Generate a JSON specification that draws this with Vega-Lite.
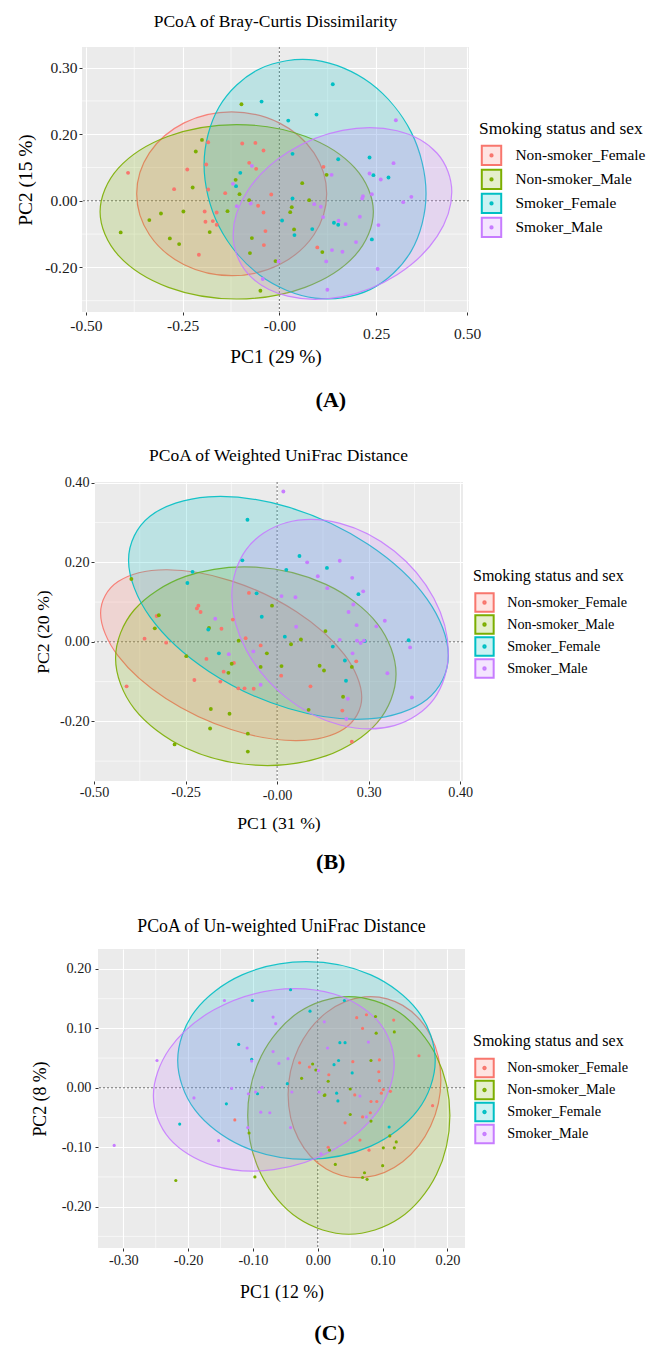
{
"$schema":"https://vega.github.io/schema/vega-lite/v6.json",
"background":"white",
"padding":{"left":5,"top":13,"right":0,"bottom":0},
"spacing":36,
"resolve":{"scale":{"fill":"independent","stroke":"independent"},"legend":{"fill":"independent","stroke":"independent"}},
"config":{
 "font":"Liberation Serif",
 "view":{"fill":"#EBEBEB","stroke":null},
 "title":{"font":"Liberation Serif","fontWeight":"normal","color":"#000000"},
 "axis":{"labelFont":"Liberation Serif","titleFont":"Liberation Serif","labelColor":"#1a1a1a","titleColor":"#000000","titleFontWeight":"normal","domain":false,"tickColor":"#333333","tickSize":3,"tickWidth":1,"gridColor":"#ffffff","gridWidth":1.1,"labelOverlap":false,"labelFlush":false},
 "legend":{"titleFont":"Liberation Serif","labelFont":"Liberation Serif","titleFontWeight":"normal","titleColor":"#000000","labelColor":"#000000","padding":0}
},
"datasets":{
"grid":[
{"p":"A","a":"x","k":"m","v":-0.375},{"p":"A","a":"x","k":"m","v":-0.125},{"p":"A","a":"x","k":"m","v":0.125},{"p":"A","a":"x","k":"m","v":0.375},
{"p":"A","a":"y","k":"m","v":-0.3},{"p":"A","a":"y","k":"m","v":-0.1},{"p":"A","a":"y","k":"m","v":0.1},{"p":"A","a":"y","k":"m","v":0.3},
{"p":"A","a":"x","k":"z","v":0},{"p":"A","a":"y","k":"z","v":0},
{"p":"B","a":"x","k":"m","v":-0.375},{"p":"B","a":"x","k":"m","v":-0.125},{"p":"B","a":"x","k":"m","v":0.125},{"p":"B","a":"x","k":"m","v":0.375},
{"p":"B","a":"y","k":"m","v":-0.3},{"p":"B","a":"y","k":"m","v":-0.1},{"p":"B","a":"y","k":"m","v":0.1},{"p":"B","a":"y","k":"m","v":0.3},
{"p":"B","a":"x","k":"z","v":0},{"p":"B","a":"y","k":"z","v":0},
{"p":"C","a":"x","k":"m","v":-0.25},{"p":"C","a":"x","k":"m","v":-0.15},{"p":"C","a":"x","k":"m","v":-0.05},{"p":"C","a":"x","k":"m","v":0.05},{"p":"C","a":"x","k":"m","v":0.15},
{"p":"C","a":"y","k":"m","v":-0.25},{"p":"C","a":"y","k":"m","v":-0.15},{"p":"C","a":"y","k":"m","v":-0.05},{"p":"C","a":"y","k":"m","v":0.05},{"p":"C","a":"y","k":"m","v":0.15},
{"p":"C","a":"x","k":"z","v":0},{"p":"C","a":"y","k":"z","v":0}
],
"ell":[
{"p":"A","g":"Non-smoker_Female","i":0,"x":0.1223,"y":0.021},{"p":"A","g":"Non-smoker_Female","i":1,"x":0.0894,"y":0.144},{"p":"A","g":"Non-smoker_Female","i":2,"x":-0.0004,"y":0.234},{"p":"A","g":"Non-smoker_Female","i":3,"x":-0.1232,"y":0.267},{"p":"A","g":"Non-smoker_Female","i":4,"x":-0.246,"y":0.234},{"p":"A","g":"Non-smoker_Female","i":5,"x":-0.3358,"y":0.144},{"p":"A","g":"Non-smoker_Female","i":6,"x":-0.3687,"y":0.021},{"p":"A","g":"Non-smoker_Female","i":7,"x":-0.3358,"y":-0.102},{"p":"A","g":"Non-smoker_Female","i":8,"x":-0.246,"y":-0.192},{"p":"A","g":"Non-smoker_Female","i":9,"x":-0.1232,"y":-0.225},{"p":"A","g":"Non-smoker_Female","i":10,"x":-0.0004,"y":-0.192},{"p":"A","g":"Non-smoker_Female","i":11,"x":0.0894,"y":-0.102},
{"p":"A","g":"Non-smoker_Male","i":0,"x":0.2429,"y":-0.033},{"p":"A","g":"Non-smoker_Male","i":1,"x":0.1956,"y":0.098},{"p":"A","g":"Non-smoker_Male","i":2,"x":0.0664,"y":0.1939},{"p":"A","g":"Non-smoker_Male","i":3,"x":-0.1102,"y":0.229},{"p":"A","g":"Non-smoker_Male","i":4,"x":-0.2868,"y":0.1939},{"p":"A","g":"Non-smoker_Male","i":5,"x":-0.416,"y":0.098},{"p":"A","g":"Non-smoker_Male","i":6,"x":-0.4633,"y":-0.033},{"p":"A","g":"Non-smoker_Male","i":7,"x":-0.416,"y":-0.164},{"p":"A","g":"Non-smoker_Male","i":8,"x":-0.2868,"y":-0.2599},{"p":"A","g":"Non-smoker_Male","i":9,"x":-0.1102,"y":-0.295},{"p":"A","g":"Non-smoker_Male","i":10,"x":0.0664,"y":-0.2599},{"p":"A","g":"Non-smoker_Male","i":11,"x":0.1956,"y":-0.164},
{"p":"A","g":"Smoker_Female","i":0,"x":0.379,"y":0.0218},{"p":"A","g":"Smoker_Female","i":1,"x":0.3406,"y":0.2063},{"p":"A","g":"Smoker_Female","i":2,"x":0.2356,"y":0.3529},{"p":"A","g":"Smoker_Female","i":3,"x":0.0922,"y":0.4224},{"p":"A","g":"Smoker_Female","i":4,"x":-0.0512,"y":0.3961},{"p":"A","g":"Smoker_Female","i":5,"x":-0.1562,"y":0.2811},{"p":"A","g":"Smoker_Female","i":6,"x":-0.1946,"y":0.1082},{"p":"A","g":"Smoker_Female","i":7,"x":-0.1562,"y":-0.0763},{"p":"A","g":"Smoker_Female","i":8,"x":-0.0512,"y":-0.2229},{"p":"A","g":"Smoker_Female","i":9,"x":0.0922,"y":-0.2924},{"p":"A","g":"Smoker_Female","i":10,"x":0.2356,"y":-0.2661},{"p":"A","g":"Smoker_Female","i":11,"x":0.3406,"y":-0.1511},
{"p":"A","g":"Smoker_Male","i":0,"x":0.4455,"y":0.0265},{"p":"A","g":"Smoker_Male","i":1,"x":0.4076,"y":0.1428},{"p":"A","g":"Smoker_Male","i":2,"x":0.3043,"y":0.2105},{"p":"A","g":"Smoker_Male","i":3,"x":0.163,"y":0.2117},{"p":"A","g":"Smoker_Male","i":4,"x":0.0217,"y":0.1459},{"p":"A","g":"Smoker_Male","i":5,"x":-0.0816,"y":0.031},{"p":"A","g":"Smoker_Male","i":6,"x":-0.1195,"y":-0.1025},{"p":"A","g":"Smoker_Male","i":7,"x":-0.0816,"y":-0.2188},{"p":"A","g":"Smoker_Male","i":8,"x":0.0217,"y":-0.2865},{"p":"A","g":"Smoker_Male","i":9,"x":0.163,"y":-0.2877},{"p":"A","g":"Smoker_Male","i":10,"x":0.3043,"y":-0.2219},{"p":"A","g":"Smoker_Male","i":11,"x":0.4076,"y":-0.107},
{"p":"B","g":"Non-smoker_Female","i":0,"x":0.231,"y":-0.1391},{"p":"B","g":"Non-smoker_Female","i":1,"x":0.1832,"y":-0.0315},{"p":"B","g":"Non-smoker_Female","i":2,"x":0.0528,"y":0.0757},{"p":"B","g":"Non-smoker_Female","i":3,"x":-0.1255,"y":0.1535},{"p":"B","g":"Non-smoker_Female","i":4,"x":-0.3038,"y":0.1813},{"p":"B","g":"Non-smoker_Female","i":5,"x":-0.4342,"y":0.1515},{"p":"B","g":"Non-smoker_Female","i":6,"x":-0.482,"y":0.0721},{"p":"B","g":"Non-smoker_Female","i":7,"x":-0.4342,"y":-0.0355},{"p":"B","g":"Non-smoker_Female","i":8,"x":-0.3038,"y":-0.1427},{"p":"B","g":"Non-smoker_Female","i":9,"x":-0.1255,"y":-0.2205},{"p":"B","g":"Non-smoker_Female","i":10,"x":0.0528,"y":-0.2483},{"p":"B","g":"Non-smoker_Female","i":11,"x":0.1832,"y":-0.2185},
{"p":"B","g":"Non-smoker_Male","i":0,"x":0.3247,"y":-0.0812},{"p":"B","g":"Non-smoker_Male","i":1,"x":0.2734,"y":0.0461},{"p":"B","g":"Non-smoker_Male","i":2,"x":0.1333,"y":0.1445},{"p":"B","g":"Non-smoker_Male","i":3,"x":-0.0582,"y":0.1879},{"p":"B","g":"Non-smoker_Male","i":4,"x":-0.2497,"y":0.1645},{"p":"B","g":"Non-smoker_Male","i":5,"x":-0.3898,"y":0.0807},{"p":"B","g":"Non-smoker_Male","i":6,"x":-0.4411,"y":-0.0412},{"p":"B","g":"Non-smoker_Male","i":7,"x":-0.3898,"y":-0.1685},{"p":"B","g":"Non-smoker_Male","i":8,"x":-0.2497,"y":-0.2669},{"p":"B","g":"Non-smoker_Male","i":9,"x":-0.0582,"y":-0.3103},{"p":"B","g":"Non-smoker_Male","i":10,"x":0.1333,"y":-0.2869},{"p":"B","g":"Non-smoker_Male","i":11,"x":0.2734,"y":-0.2031},
{"p":"B","g":"Smoker_Female","i":0,"x":0.4675,"y":-0.0344},{"p":"B","g":"Smoker_Female","i":1,"x":0.409,"y":0.1083},{"p":"B","g":"Smoker_Female","i":2,"x":0.2492,"y":0.2448},{"p":"B","g":"Smoker_Female","i":3,"x":0.0309,"y":0.3387},{"p":"B","g":"Smoker_Female","i":4,"x":-0.1874,"y":0.3648},{"p":"B","g":"Smoker_Female","i":5,"x":-0.3472,"y":0.3159},{"p":"B","g":"Smoker_Female","i":6,"x":-0.4057,"y":0.2054},{"p":"B","g":"Smoker_Female","i":7,"x":-0.3472,"y":0.0627},{"p":"B","g":"Smoker_Female","i":8,"x":-0.1874,"y":-0.0738},{"p":"B","g":"Smoker_Female","i":9,"x":0.0309,"y":-0.1677},{"p":"B","g":"Smoker_Female","i":10,"x":0.2492,"y":-0.1938},{"p":"B","g":"Smoker_Female","i":11,"x":0.409,"y":-0.1449},
{"p":"B","g":"Smoker_Male","i":0,"x":0.4675,"y":-0.0267},{"p":"B","g":"Smoker_Male","i":1,"x":0.4279,"y":0.1096},{"p":"B","g":"Smoker_Male","i":2,"x":0.3197,"y":0.2284},{"p":"B","g":"Smoker_Male","i":3,"x":0.1719,"y":0.298},{"p":"B","g":"Smoker_Male","i":4,"x":0.0241,"y":0.2996},{"p":"B","g":"Smoker_Male","i":5,"x":-0.0841,"y":0.2328},{"p":"B","g":"Smoker_Male","i":6,"x":-0.1237,"y":0.1155},{"p":"B","g":"Smoker_Male","i":7,"x":-0.0841,"y":-0.0208},{"p":"B","g":"Smoker_Male","i":8,"x":0.0241,"y":-0.1396},{"p":"B","g":"Smoker_Male","i":9,"x":0.1719,"y":-0.2092},{"p":"B","g":"Smoker_Male","i":10,"x":0.3197,"y":-0.2108},{"p":"B","g":"Smoker_Male","i":11,"x":0.4279,"y":-0.144},
{"p":"C","g":"Non-smoker_Female","i":0,"x":0.1898,"y":0.0133},{"p":"C","g":"Non-smoker_Female","i":1,"x":0.174,"y":0.0877},{"p":"C","g":"Non-smoker_Female","i":2,"x":0.1309,"y":0.1387},{"p":"C","g":"Non-smoker_Female","i":3,"x":0.072,"y":0.153},{"p":"C","g":"Non-smoker_Female","i":4,"x":0.0131,"y":0.1265},{"p":"C","g":"Non-smoker_Female","i":5,"x":-0.03,"y":0.0665},{"p":"C","g":"Non-smoker_Female","i":6,"x":-0.0458,"y":-0.0111},{"p":"C","g":"Non-smoker_Female","i":7,"x":-0.03,"y":-0.0855},{"p":"C","g":"Non-smoker_Female","i":8,"x":0.0131,"y":-0.1365},{"p":"C","g":"Non-smoker_Female","i":9,"x":0.072,"y":-0.1508},{"p":"C","g":"Non-smoker_Female","i":10,"x":0.1309,"y":-0.1243},{"p":"C","g":"Non-smoker_Female","i":11,"x":0.174,"y":-0.0643},
{"p":"C","g":"Non-smoker_Male","i":0,"x":0.2037,"y":-0.0465},{"p":"C","g":"Non-smoker_Male","i":1,"x":0.1828,"y":0.0535},{"p":"C","g":"Non-smoker_Male","i":2,"x":0.1258,"y":0.1267},{"p":"C","g":"Non-smoker_Male","i":3,"x":0.0478,"y":0.1535},{"p":"C","g":"Non-smoker_Male","i":4,"x":-0.0302,"y":0.1267},{"p":"C","g":"Non-smoker_Male","i":5,"x":-0.0872,"y":0.0535},{"p":"C","g":"Non-smoker_Male","i":6,"x":-0.1081,"y":-0.0465},{"p":"C","g":"Non-smoker_Male","i":7,"x":-0.0872,"y":-0.1465},{"p":"C","g":"Non-smoker_Male","i":8,"x":-0.0302,"y":-0.2197},{"p":"C","g":"Non-smoker_Male","i":9,"x":0.0478,"y":-0.2465},{"p":"C","g":"Non-smoker_Male","i":10,"x":0.1258,"y":-0.2197},{"p":"C","g":"Non-smoker_Male","i":11,"x":0.1828,"y":-0.1465},
{"p":"C","g":"Smoker_Female","i":0,"x":0.1811,"y":0.0459},{"p":"C","g":"Smoker_Female","i":1,"x":0.1545,"y":0.1291},{"p":"C","g":"Smoker_Female","i":2,"x":0.0818,"y":0.19},{"p":"C","g":"Smoker_Female","i":3,"x":-0.0175,"y":0.2123},{"p":"C","g":"Smoker_Female","i":4,"x":-0.1168,"y":0.19},{"p":"C","g":"Smoker_Female","i":5,"x":-0.1895,"y":0.1291},{"p":"C","g":"Smoker_Female","i":6,"x":-0.2161,"y":0.0459},{"p":"C","g":"Smoker_Female","i":7,"x":-0.1895,"y":-0.0373},{"p":"C","g":"Smoker_Female","i":8,"x":-0.1168,"y":-0.0982},{"p":"C","g":"Smoker_Female","i":9,"x":-0.0175,"y":-0.1205},{"p":"C","g":"Smoker_Female","i":10,"x":0.0818,"y":-0.0982},{"p":"C","g":"Smoker_Female","i":11,"x":0.1545,"y":-0.0373},
{"p":"C","g":"Smoker_Male","i":0,"x":0.1178,"y":0.0403},{"p":"C","g":"Smoker_Male","i":1,"x":0.0929,"y":0.1123},{"p":"C","g":"Smoker_Male","i":2,"x":0.025,"y":0.1578},{"p":"C","g":"Smoker_Male","i":3,"x":-0.0679,"y":0.1646},{"p":"C","g":"Smoker_Male","i":4,"x":-0.1608,"y":0.1308},{"p":"C","g":"Smoker_Male","i":5,"x":-0.2287,"y":0.0657},{"p":"C","g":"Smoker_Male","i":6,"x":-0.2536,"y":-0.0135},{"p":"C","g":"Smoker_Male","i":7,"x":-0.2287,"y":-0.0855},{"p":"C","g":"Smoker_Male","i":8,"x":-0.1608,"y":-0.131},{"p":"C","g":"Smoker_Male","i":9,"x":-0.0679,"y":-0.1378},{"p":"C","g":"Smoker_Male","i":10,"x":0.025,"y":-0.104},{"p":"C","g":"Smoker_Male","i":11,"x":0.0929,"y":-0.0389}
],
"pts":[
{"p":"A","g":"Non-smoker_Female","x":-0.391,"y":0.084},{"p":"A","g":"Non-smoker_Female","x":-0.272,"y":0.035},{"p":"A","g":"Non-smoker_Female","x":-0.238,"y":0.094},{"p":"A","g":"Non-smoker_Female","x":-0.189,"y":0.109},{"p":"A","g":"Non-smoker_Female","x":-0.184,"y":0.034},{"p":"A","g":"Non-smoker_Female","x":-0.184,"y":0.176},{"p":"A","g":"Non-smoker_Female","x":-0.193,"y":-0.032},{"p":"A","g":"Non-smoker_Female","x":-0.191,"y":-0.063},{"p":"A","g":"Non-smoker_Female","x":-0.172,"y":-0.061},{"p":"A","g":"Non-smoker_Female","x":-0.162,"y":-0.035},{"p":"A","g":"Non-smoker_Female","x":-0.162,"y":-0.072},{"p":"A","g":"Non-smoker_Female","x":-0.208,"y":-0.162},{"p":"A","g":"Non-smoker_Female","x":-0.14,"y":0.023},{"p":"A","g":"Non-smoker_Female","x":-0.096,"y":0.172},{"p":"A","g":"Non-smoker_Female","x":-0.062,"y":0.174},{"p":"A","g":"Non-smoker_Female","x":-0.041,"y":0.151},{"p":"A","g":"Non-smoker_Female","x":-0.078,"y":0.114},{"p":"A","g":"Non-smoker_Female","x":-0.06,"y":0.096},{"p":"A","g":"Non-smoker_Female","x":-0.055,"y":-0.015},{"p":"A","g":"Non-smoker_Female","x":-0.041,"y":-0.035},{"p":"A","g":"Non-smoker_Female","x":-0.036,"y":-0.091},{"p":"A","g":"Non-smoker_Female","x":-0.04,"y":-0.133},{"p":"A","g":"Non-smoker_Female","x":-0.021,"y":0.019},{"p":"A","g":"Non-smoker_Female","x":0.114,"y":0.102},{"p":"A","g":"Non-smoker_Female","x":0.098,"y":-0.14},
{"p":"A","g":"Non-smoker_Male","x":-0.41,"y":-0.095},{"p":"A","g":"Non-smoker_Male","x":-0.336,"y":-0.058},{"p":"A","g":"Non-smoker_Male","x":-0.306,"y":-0.038},{"p":"A","g":"Non-smoker_Male","x":-0.283,"y":-0.113},{"p":"A","g":"Non-smoker_Male","x":-0.259,"y":-0.13},{"p":"A","g":"Non-smoker_Male","x":-0.248,"y":-0.032},{"p":"A","g":"Non-smoker_Male","x":-0.224,"y":0.04},{"p":"A","g":"Non-smoker_Male","x":-0.216,"y":0.148},{"p":"A","g":"Non-smoker_Male","x":-0.2,"y":0.183},{"p":"A","g":"Non-smoker_Male","x":-0.18,"y":-0.094},{"p":"A","g":"Non-smoker_Male","x":-0.134,"y":-0.031},{"p":"A","g":"Non-smoker_Male","x":-0.113,"y":0.063},{"p":"A","g":"Non-smoker_Male","x":-0.103,"y":0.02},{"p":"A","g":"Non-smoker_Male","x":-0.098,"y":0.29},{"p":"A","g":"Non-smoker_Male","x":-0.078,"y":0.002},{"p":"A","g":"Non-smoker_Male","x":-0.071,"y":-0.112},{"p":"A","g":"Non-smoker_Male","x":-0.076,"y":-0.157},{"p":"A","g":"Non-smoker_Male","x":-0.049,"y":-0.27},{"p":"A","g":"Non-smoker_Male","x":-0.01,"y":-0.181},{"p":"A","g":"Non-smoker_Male","x":0.028,"y":-0.034},{"p":"A","g":"Non-smoker_Male","x":0.032,"y":-0.019},{"p":"A","g":"Non-smoker_Male","x":0.038,"y":-0.086},{"p":"A","g":"Non-smoker_Male","x":0.059,"y":0.053},{"p":"A","g":"Non-smoker_Male","x":0.077,"y":0.002},{"p":"A","g":"Non-smoker_Male","x":0.122,"y":0.078},{"p":"A","g":"Non-smoker_Male","x":0.111,"y":-0.154},
{"p":"A","g":"Smoker_Female","x":-0.046,"y":0.298},{"p":"A","g":"Smoker_Female","x":0.023,"y":0.241},{"p":"A","g":"Smoker_Female","x":0.096,"y":0.259},{"p":"A","g":"Smoker_Female","x":0.138,"y":0.35},{"p":"A","g":"Smoker_Female","x":-0.101,"y":0.084},{"p":"A","g":"Smoker_Female","x":-0.112,"y":0.044},{"p":"A","g":"Smoker_Female","x":0.034,"y":0.141},{"p":"A","g":"Smoker_Female","x":0.034,"y":0.007},{"p":"A","g":"Smoker_Female","x":0.007,"y":-0.059},{"p":"A","g":"Smoker_Female","x":0.039,"y":-0.103},{"p":"A","g":"Smoker_Female","x":0.085,"y":-0.085},{"p":"A","g":"Smoker_Female","x":0.141,"y":-0.066},{"p":"A","g":"Smoker_Female","x":0.152,"y":-0.072},{"p":"A","g":"Smoker_Female","x":0.152,"y":0.125},{"p":"A","g":"Smoker_Female","x":0.233,"y":0.13},{"p":"A","g":"Smoker_Female","x":0.243,"y":0.077},{"p":"A","g":"Smoker_Female","x":0.282,"y":0.07},{"p":"A","g":"Smoker_Female","x":0.239,"y":-0.116},
{"p":"A","g":"Smoker_Male","x":0.301,"y":0.242},{"p":"A","g":"Smoker_Male","x":0.295,"y":0.113},{"p":"A","g":"Smoker_Male","x":0.262,"y":0.064},{"p":"A","g":"Smoker_Male","x":0.233,"y":0.082},{"p":"A","g":"Smoker_Male","x":0.135,"y":0.078},{"p":"A","g":"Smoker_Male","x":0.239,"y":0.02},{"p":"A","g":"Smoker_Male","x":0.216,"y":0.014},{"p":"A","g":"Smoker_Male","x":0.214,"y":0.007},{"p":"A","g":"Smoker_Male","x":0.32,"y":-0.004},{"p":"A","g":"Smoker_Male","x":0.341,"y":0.012},{"p":"A","g":"Smoker_Male","x":0.09,"y":-0.01},{"p":"A","g":"Smoker_Male","x":0.107,"y":-0.018},{"p":"A","g":"Smoker_Male","x":0.113,"y":-0.049},{"p":"A","g":"Smoker_Male","x":0.153,"y":-0.06},{"p":"A","g":"Smoker_Male","x":0.171,"y":-0.07},{"p":"A","g":"Smoker_Male","x":0.208,"y":-0.048},{"p":"A","g":"Smoker_Male","x":0.256,"y":-0.073},{"p":"A","g":"Smoker_Male","x":0.198,"y":-0.124},{"p":"A","g":"Smoker_Male","x":0.136,"y":-0.148},{"p":"A","g":"Smoker_Male","x":0.163,"y":-0.153},{"p":"A","g":"Smoker_Male","x":0.121,"y":-0.182},{"p":"A","g":"Smoker_Male","x":0.254,"y":-0.205},{"p":"A","g":"Smoker_Male","x":0.124,"y":-0.267},{"p":"A","g":"Smoker_Male","x":-0.043,"y":-0.235},{"p":"A","g":"Smoker_Male","x":-0.12,"y":0.051},{"p":"A","g":"Smoker_Male","x":-0.071,"y":0.105},{"p":"A","g":"Smoker_Male","x":-0.11,"y":-0.016},{"p":"A","g":"Smoker_Male","x":-0.074,"y":-0.008},{"p":"A","g":"Smoker_Male","x":-0.002,"y":-0.182},
{"p":"B","g":"Non-smoker_Female","x":-0.411,"y":-0.112},{"p":"B","g":"Non-smoker_Female","x":-0.362,"y":0.008},{"p":"B","g":"Non-smoker_Female","x":-0.329,"y":0.065},{"p":"B","g":"Non-smoker_Female","x":-0.303,"y":-0.002},{"p":"B","g":"Non-smoker_Female","x":-0.219,"y":0.084},{"p":"B","g":"Non-smoker_Female","x":-0.215,"y":0.091},{"p":"B","g":"Non-smoker_Female","x":-0.209,"y":0.075},{"p":"B","g":"Non-smoker_Female","x":-0.193,"y":-0.043},{"p":"B","g":"Non-smoker_Female","x":-0.152,"y":0.033},{"p":"B","g":"Non-smoker_Female","x":-0.146,"y":-0.075},{"p":"B","g":"Non-smoker_Female","x":-0.155,"y":-0.1},{"p":"B","g":"Non-smoker_Female","x":-0.226,"y":-0.096},{"p":"B","g":"Non-smoker_Female","x":-0.121,"y":0.056},{"p":"B","g":"Non-smoker_Female","x":-0.118,"y":-0.053},{"p":"B","g":"Non-smoker_Female","x":-0.106,"y":-0.117},{"p":"B","g":"Non-smoker_Female","x":-0.089,"y":-0.117},{"p":"B","g":"Non-smoker_Female","x":-0.064,"y":-0.118},{"p":"B","g":"Non-smoker_Female","x":-0.086,"y":0.009},{"p":"B","g":"Non-smoker_Female","x":-0.077,"y":0.123},{"p":"B","g":"Non-smoker_Female","x":-0.045,"y":-0.009},{"p":"B","g":"Non-smoker_Female","x":0.011,"y":-0.085},{"p":"B","g":"Non-smoker_Female","x":0.091,"y":-0.112},{"p":"B","g":"Non-smoker_Female","x":0.178,"y":-0.173},{"p":"B","g":"Non-smoker_Female","x":0.216,"y":-0.049},{"p":"B","g":"Non-smoker_Female","x":0.204,"y":-0.251},
{"p":"B","g":"Non-smoker_Male","x":-0.398,"y":0.158},{"p":"B","g":"Non-smoker_Male","x":-0.323,"y":0.067},{"p":"B","g":"Non-smoker_Male","x":-0.334,"y":0.034},{"p":"B","g":"Non-smoker_Male","x":-0.248,"y":-0.036},{"p":"B","g":"Non-smoker_Male","x":-0.186,"y":0.035},{"p":"B","g":"Non-smoker_Male","x":-0.181,"y":-0.169},{"p":"B","g":"Non-smoker_Male","x":-0.183,"y":-0.218},{"p":"B","g":"Non-smoker_Male","x":-0.13,"y":-0.181},{"p":"B","g":"Non-smoker_Male","x":-0.133,"y":-0.078},{"p":"B","g":"Non-smoker_Male","x":-0.124,"y":-0.055},{"p":"B","g":"Non-smoker_Male","x":-0.105,"y":0.003},{"p":"B","g":"Non-smoker_Male","x":-0.08,"y":-0.231},{"p":"B","g":"Non-smoker_Male","x":-0.08,"y":-0.276},{"p":"B","g":"Non-smoker_Male","x":-0.28,"y":-0.258},{"p":"B","g":"Non-smoker_Male","x":-0.045,"y":-0.063},{"p":"B","g":"Non-smoker_Male","x":-0.028,"y":-0.029},{"p":"B","g":"Non-smoker_Male","x":-0.014,"y":0.091},{"p":"B","g":"Non-smoker_Male","x":0.038,"y":-0.006},{"p":"B","g":"Non-smoker_Male","x":0.065,"y":0.006},{"p":"B","g":"Non-smoker_Male","x":0.012,"y":-0.061},{"p":"B","g":"Non-smoker_Male","x":0.086,"y":-0.171},{"p":"B","g":"Non-smoker_Male","x":0.116,"y":-0.06},{"p":"B","g":"Non-smoker_Male","x":0.128,"y":-0.072},{"p":"B","g":"Non-smoker_Male","x":0.132,"y":0.027},{"p":"B","g":"Non-smoker_Male","x":0.18,"y":-0.138},{"p":"B","g":"Non-smoker_Male","x":0.204,"y":-0.063},
{"p":"B","g":"Smoker_Female","x":-0.231,"y":0.176},{"p":"B","g":"Smoker_Female","x":-0.245,"y":0.148},{"p":"B","g":"Smoker_Female","x":-0.188,"y":0.031},{"p":"B","g":"Smoker_Female","x":-0.159,"y":-0.029},{"p":"B","g":"Smoker_Female","x":-0.095,"y":0.205},{"p":"B","g":"Smoker_Female","x":-0.081,"y":0.307},{"p":"B","g":"Smoker_Female","x":-0.056,"y":0.122},{"p":"B","g":"Smoker_Female","x":-0.042,"y":0.063},{"p":"B","g":"Smoker_Female","x":0.021,"y":0.013},{"p":"B","g":"Smoker_Female","x":0.025,"y":0.181},{"p":"B","g":"Smoker_Female","x":0.061,"y":0.216},{"p":"B","g":"Smoker_Female","x":0.136,"y":0.186},{"p":"B","g":"Smoker_Female","x":0.152,"y":-0.012},{"p":"B","g":"Smoker_Female","x":0.185,"y":-0.047},{"p":"B","g":"Smoker_Female","x":0.188,"y":-0.098},{"p":"B","g":"Smoker_Female","x":0.222,"y":0.12},{"p":"B","g":"Smoker_Female","x":0.239,"y":0.002},{"p":"B","g":"Smoker_Female","x":0.359,"y":0.004},
{"p":"B","g":"Smoker_Male","x":-0.169,"y":0.058},{"p":"B","g":"Smoker_Male","x":-0.132,"y":-0.031},{"p":"B","g":"Smoker_Male","x":-0.065,"y":-0.024},{"p":"B","g":"Smoker_Male","x":-0.045,"y":-0.108},{"p":"B","g":"Smoker_Male","x":0.012,"y":0.115},{"p":"B","g":"Smoker_Male","x":0.05,"y":0.112},{"p":"B","g":"Smoker_Male","x":0.052,"y":0.038},{"p":"B","g":"Smoker_Male","x":0.082,"y":0.2},{"p":"B","g":"Smoker_Male","x":0.111,"y":0.165},{"p":"B","g":"Smoker_Male","x":0.137,"y":0.135},{"p":"B","g":"Smoker_Male","x":0.171,"y":0.204},{"p":"B","g":"Smoker_Male","x":0.171,"y":0.005},{"p":"B","g":"Smoker_Male","x":0.205,"y":0.161},{"p":"B","g":"Smoker_Male","x":0.208,"y":0.094},{"p":"B","g":"Smoker_Male","x":0.195,"y":0.075},{"p":"B","g":"Smoker_Male","x":0.217,"y":0.042},{"p":"B","g":"Smoker_Male","x":0.218,"y":0.003},{"p":"B","g":"Smoker_Male","x":0.228,"y":-0.003},{"p":"B","g":"Smoker_Male","x":0.235,"y":0.127},{"p":"B","g":"Smoker_Male","x":0.237,"y":0.003},{"p":"B","g":"Smoker_Male","x":0.294,"y":0.053},{"p":"B","g":"Smoker_Male","x":0.271,"y":0.039},{"p":"B","g":"Smoker_Male","x":0.301,"y":-0.079},{"p":"B","g":"Smoker_Male","x":0.363,"y":-0.014},{"p":"B","g":"Smoker_Male","x":0.368,"y":-0.14},{"p":"B","g":"Smoker_Male","x":0.193,"y":-0.143},{"p":"B","g":"Smoker_Male","x":0.189,"y":-0.194},{"p":"B","g":"Smoker_Male","x":0.017,"y":0.378},{"p":"B","g":"Smoker_Male","x":0.206,"y":-0.029},
{"p":"C","g":"Non-smoker_Female","x":-0.028,"y":0.042},{"p":"C","g":"Non-smoker_Female","x":-0.013,"y":0.035},{"p":"C","g":"Non-smoker_Female","x":0.017,"y":0.022},{"p":"C","g":"Non-smoker_Female","x":0.016,"y":-0.1},{"p":"C","g":"Non-smoker_Female","x":0.06,"y":0.118},{"p":"C","g":"Non-smoker_Female","x":0.069,"y":0.1},{"p":"C","g":"Non-smoker_Female","x":0.075,"y":0.123},{"p":"C","g":"Non-smoker_Female","x":0.095,"y":0.047},{"p":"C","g":"Non-smoker_Female","x":0.094,"y":0.027},{"p":"C","g":"Non-smoker_Female","x":0.054,"y":0.044},{"p":"C","g":"Non-smoker_Female","x":0.057,"y":-0.012},{"p":"C","g":"Non-smoker_Female","x":0.042,"y":-0.059},{"p":"C","g":"Non-smoker_Female","x":0.065,"y":-0.088},{"p":"C","g":"Non-smoker_Female","x":0.069,"y":-0.049},{"p":"C","g":"Non-smoker_Female","x":0.081,"y":-0.042},{"p":"C","g":"Non-smoker_Female","x":0.082,"y":-0.023},{"p":"C","g":"Non-smoker_Female","x":0.091,"y":-0.023},{"p":"C","g":"Non-smoker_Female","x":0.095,"y":0.012},{"p":"C","g":"Non-smoker_Female","x":0.098,"y":-0.009},{"p":"C","g":"Non-smoker_Female","x":0.101,"y":-0.003},{"p":"C","g":"Non-smoker_Female","x":0.112,"y":-0.006},{"p":"C","g":"Non-smoker_Female","x":0.156,"y":0.054},{"p":"C","g":"Non-smoker_Female","x":0.177,"y":-0.03},{"p":"C","g":"Non-smoker_Female","x":0.117,"y":0.114},{"p":"C","g":"Non-smoker_Female","x":0.079,"y":-0.105},{"p":"C","g":"Non-smoker_Female","x":-0.128,"y":-0.054},
{"p":"C","g":"Non-smoker_Male","x":-0.008,"y":0.04},{"p":"C","g":"Non-smoker_Male","x":-0.003,"y":0.03},{"p":"C","g":"Non-smoker_Male","x":0.016,"y":0.011},{"p":"C","g":"Non-smoker_Male","x":0.011,"y":-0.012},{"p":"C","g":"Non-smoker_Male","x":0.01,"y":-0.013},{"p":"C","g":"Non-smoker_Male","x":-0.025,"y":0.016},{"p":"C","g":"Non-smoker_Male","x":0.05,"y":-0.002},{"p":"C","g":"Non-smoker_Male","x":0.05,"y":-0.045},{"p":"C","g":"Non-smoker_Male","x":0.082,"y":0.046},{"p":"C","g":"Non-smoker_Male","x":0.09,"y":0.092},{"p":"C","g":"Non-smoker_Male","x":0.089,"y":0.12},{"p":"C","g":"Non-smoker_Male","x":0.118,"y":0.094},{"p":"C","g":"Non-smoker_Male","x":0.082,"y":-0.056},{"p":"C","g":"Non-smoker_Male","x":0.111,"y":-0.081},{"p":"C","g":"Non-smoker_Male","x":0.101,"y":-0.101},{"p":"C","g":"Non-smoker_Male","x":0.118,"y":-0.101},{"p":"C","g":"Non-smoker_Male","x":0.121,"y":-0.091},{"p":"C","g":"Non-smoker_Male","x":0.1,"y":-0.131},{"p":"C","g":"Non-smoker_Male","x":0.072,"y":-0.143},{"p":"C","g":"Non-smoker_Male","x":0.069,"y":-0.151},{"p":"C","g":"Non-smoker_Male","x":0.076,"y":-0.154},{"p":"C","g":"Non-smoker_Male","x":0.027,"y":-0.129},{"p":"C","g":"Non-smoker_Male","x":0.018,"y":-0.105},{"p":"C","g":"Non-smoker_Male","x":-0.106,"y":-0.076},{"p":"C","g":"Non-smoker_Male","x":-0.097,"y":-0.15},{"p":"C","g":"Non-smoker_Male","x":-0.219,"y":-0.156},
{"p":"C","g":"Smoker_Female","x":-0.122,"y":0.073},{"p":"C","g":"Smoker_Female","x":-0.141,"y":-0.027},{"p":"C","g":"Smoker_Female","x":-0.213,"y":-0.061},{"p":"C","g":"Smoker_Female","x":-0.102,"y":0.048},{"p":"C","g":"Smoker_Female","x":-0.101,"y":0.147},{"p":"C","g":"Smoker_Female","x":-0.042,"y":0.165},{"p":"C","g":"Smoker_Female","x":-0.012,"y":0.129},{"p":"C","g":"Smoker_Female","x":0.041,"y":0.147},{"p":"C","g":"Smoker_Female","x":0.034,"y":0.076},{"p":"C","g":"Smoker_Female","x":0.042,"y":0.076},{"p":"C","g":"Smoker_Female","x":0.025,"y":0.039},{"p":"C","g":"Smoker_Female","x":0.032,"y":0.046},{"p":"C","g":"Smoker_Female","x":0.053,"y":0.025},{"p":"C","g":"Smoker_Female","x":0.029,"y":-0.009},{"p":"C","g":"Smoker_Female","x":0.031,"y":-0.022},{"p":"C","g":"Smoker_Female","x":-0.047,"y":0.007},{"p":"C","g":"Smoker_Female","x":-0.093,"y":-0.01},{"p":"C","g":"Smoker_Female","x":0.11,"y":-0.066},
{"p":"C","g":"Smoker_Male","x":-0.248,"y":0.046},{"p":"C","g":"Smoker_Male","x":-0.191,"y":-0.017},{"p":"C","g":"Smoker_Male","x":-0.144,"y":0.147},{"p":"C","g":"Smoker_Male","x":-0.109,"y":0.067},{"p":"C","g":"Smoker_Male","x":-0.102,"y":0.045},{"p":"C","g":"Smoker_Male","x":-0.069,"y":0.119},{"p":"C","g":"Smoker_Male","x":-0.065,"y":0.108},{"p":"C","g":"Smoker_Male","x":-0.069,"y":0.061},{"p":"C","g":"Smoker_Male","x":-0.06,"y":0.041},{"p":"C","g":"Smoker_Male","x":-0.046,"y":0.049},{"p":"C","g":"Smoker_Male","x":-0.133,"y":-0.001},{"p":"C","g":"Smoker_Male","x":-0.107,"y":-0.01},{"p":"C","g":"Smoker_Male","x":-0.096,"y":-0.007},{"p":"C","g":"Smoker_Male","x":-0.086,"y":0.001},{"p":"C","g":"Smoker_Male","x":-0.088,"y":-0.041},{"p":"C","g":"Smoker_Male","x":-0.074,"y":-0.042},{"p":"C","g":"Smoker_Male","x":-0.042,"y":-0.067},{"p":"C","g":"Smoker_Male","x":-0.04,"y":-0.007},{"p":"C","g":"Smoker_Male","x":0.001,"y":0.029},{"p":"C","g":"Smoker_Male","x":0.002,"y":-0.007},{"p":"C","g":"Smoker_Male","x":0.01,"y":0.111},{"p":"C","g":"Smoker_Male","x":0.015,"y":0.067},{"p":"C","g":"Smoker_Male","x":0.078,"y":0.077},{"p":"C","g":"Smoker_Male","x":0.065,"y":-0.014},{"p":"C","g":"Smoker_Male","x":0.075,"y":-0.049},{"p":"C","g":"Smoker_Male","x":-0.108,"y":-0.067},{"p":"C","g":"Smoker_Male","x":-0.153,"y":-0.089},{"p":"C","g":"Smoker_Male","x":0.005,"y":-0.111},{"p":"C","g":"Smoker_Male","x":-0.314,"y":-0.097}
]
},
"vconcat":[
{"spacing":0,
 "resolve":{"scale":{"fill":"independent","stroke":"independent"},"legend":{"fill":"independent","stroke":"independent"}},
 "hconcat":[
 {"width":10,"height":1,"data":{"values":[]},"mark":{"type":"point","opacity":0},"view":{"fill":null,"stroke":null}},
 {"title":{"text":"(A)","orient":"bottom","anchor":"middle","fontSize":22,"fontWeight":"bold","offset":24},
 "resolve":{"scale":{"fill":"independent","stroke":"independent"},"legend":{"fill":"independent","stroke":"independent"}},
 "vconcat":[{
 "width":387,"height":265,
 "title":{"text":"PCoA of Bray-Curtis Dissimilarity","fontSize":17.5,"offset":16,"frame":"group","anchor":"middle"},
 "layer":[
  {"data":{"name":"grid"},"transform":[{"filter":"datum.p=='A' && datum.a=='x' && datum.k=='m'"}],"mark":{"type":"rule","color":"#ffffff","strokeWidth":0.6},
   "encoding":{"x":{"field":"v","type":"quantitative","scale":{"domain":[-0.51,0.49],"nice":false,"zero":false},"axis":{"title":"PC1 (29 %)","values":[-0.5,-0.25,0,0.25,0.485],"labelExpr":"datum.value < -0.4 ? '-0.50' : datum.value < -0.2 ? '-0.25' : datum.value < 0.1 ? '-0.00' : datum.value < 0.3 ? ['', '0.25'] : ['', '0.50']","labelLineHeight":8,"labelFont":"Liberation Serif","titleFont":"Liberation Serif","labelFontSize":15.5,"titleFontSize":19.4,"labelPadding":3,"titlePadding":6}}}},
  {"data":{"name":"grid"},"transform":[{"filter":"datum.p=='A' && datum.a=='y' && datum.k=='m'"}],"mark":{"type":"rule","color":"#ffffff","strokeWidth":0.6},
   "encoding":{"y":{"field":"v","type":"quantitative","scale":{"domain":[-0.334,0.462],"nice":false,"zero":false},"axis":{"title":"PC2 (15 %)","values":[-0.2,0,0.2,0.4],"labelExpr":"datum.value < -0.1 ? '-0.20' : datum.value < 0.1 ? '0.00\u00a0\u00a0' : datum.value < 0.3 ? '0.20' : '0.30'","labelFont":"Liberation Serif","titleFont":"Liberation Serif","labelFontSize":15.5,"titleFontSize":19.4,"labelPadding":2,"titlePadding":9}}}},
  {"data":{"name":"grid"},"transform":[{"filter":"datum.p=='A' && datum.a=='x' && datum.k=='z'"}],"mark":{"type":"rule","color":"#333333","strokeWidth":0.7,"strokeDash":[2,2]},
   "encoding":{"x":{"field":"v","type":"quantitative","scale":{"domain":[-0.51,0.49],"nice":false,"zero":false}}}},
  {"data":{"name":"grid"},"transform":[{"filter":"datum.p=='A' && datum.a=='y' && datum.k=='z'"}],"mark":{"type":"rule","color":"#333333","strokeWidth":0.7,"strokeDash":[2,2]},
   "encoding":{"y":{"field":"v","type":"quantitative","scale":{"domain":[-0.334,0.462],"nice":false,"zero":false}}}},
  {"data":{"name":"ell"},"transform":[{"filter":"datum.p=='A'"}],"mark":{"type":"line","interpolate":"cardinal-closed","fillOpacity":0.2,"strokeWidth":1.2,"strokeOpacity":0.9},
   "encoding":{
    "x":{"field":"x","type":"quantitative","scale":{"domain":[-0.51,0.49],"nice":false,"zero":false}},
    "y":{"field":"y","type":"quantitative","scale":{"domain":[-0.334,0.462],"nice":false,"zero":false}},
    "order":{"field":"i","type":"quantitative"},
    "fill":{"field":"g","type":"nominal","scale":{"domain":["Non-smoker_Female","Non-smoker_Male","Smoker_Female","Smoker_Male"],"range":["#F8766D","#7CAE00","#00BFC4","#C77CFF"]},
     "legend":{"title":"Smoking status and sex","orient":"none","legendX":397,"legendY":73,"titleFont":"Liberation Serif","labelFont":"Liberation Serif","titleFontSize":17.4,"labelFontSize":15.4,"symbolType":"M-1.11,-1.11H1.11V1.11H-1.11Z M0.13,0A0.13,0.13 0 1 1 -0.13,0A0.13,0.13 0 1 1 0.13,0Z","symbolSize":306,"symbolStrokeWidth":2,"symbolOffset":2.5,"labelOffset":14,"rowPadding":-5,"titlePadding":8,"encode":{"symbols":{"update":{"fill":{"signal":"datum.value == 'Non-smoker_Female' ? '#F8766D' : datum.value == 'Non-smoker_Male' ? '#7CAE00' : datum.value == 'Smoker_Female' ? '#00BFC4' : '#C77CFF'"},"stroke":{"signal":"datum.value == 'Non-smoker_Female' ? '#F8766D' : datum.value == 'Non-smoker_Male' ? '#7CAE00' : datum.value == 'Smoker_Female' ? '#00BFC4' : '#C77CFF'"},"fillOpacity":{"value":0.2},"strokeOpacity":{"value":1},"opacity":{"value":1}}}}}},
    "stroke":{"field":"g","type":"nominal","scale":{"domain":["Non-smoker_Female","Non-smoker_Male","Smoker_Female","Smoker_Male"],"range":["#F8766D","#7CAE00","#00BFC4","#C77CFF"]},"legend":null}
   }},
  {"data":{"name":"pts"},"transform":[{"filter":"datum.p=='A'"}],"mark":{"type":"circle","size":15,"opacity":1},
   "encoding":{
    "x":{"field":"x","type":"quantitative","scale":{"domain":[-0.51,0.49],"nice":false,"zero":false}},
    "y":{"field":"y","type":"quantitative","scale":{"domain":[-0.334,0.462],"nice":false,"zero":false}},
    "fill":{"field":"g","type":"nominal","scale":{"domain":["Non-smoker_Female","Non-smoker_Male","Smoker_Female","Smoker_Male"],"range":["#F8766D","#7CAE00","#00BFC4","#C77CFF"]}}
   }}
 ]}]}]},
{"spacing":0,
 "resolve":{"scale":{"fill":"independent","stroke":"independent"},"legend":{"fill":"independent","stroke":"independent"}},
 "hconcat":[
 {"width":29,"height":1,"data":{"values":[]},"mark":{"type":"point","opacity":0},"view":{"fill":null,"stroke":null}},
 {"title":{"text":["(B)",""],"lineHeight":8,"orient":"bottom","anchor":"middle","fontSize":22,"fontWeight":"bold","offset":20},
 "resolve":{"scale":{"fill":"independent","stroke":"independent"},"legend":{"fill":"independent","stroke":"independent"}},
 "vconcat":[{
 "width":369,"height":299,
 "title":{"text":"PCoA of Weighted UniFrac Distance","fontSize":17.5,"offset":11,"frame":"group","anchor":"middle"},
 "layer":[
  {"data":{"name":"grid"},"transform":[{"filter":"datum.p=='B' && datum.a=='x' && datum.k=='m'"}],"mark":{"type":"rule","color":"#ffffff","strokeWidth":0.6},
   "encoding":{"x":{"field":"v","type":"quantitative","scale":{"domain":[-0.5,0.5075],"nice":false,"zero":false},"axis":{"title":"PC1 (31 %)","values":[-0.5,-0.25,0,0.25,0.5],"labelExpr":"datum.value < -0.4 ? '-0.50' : datum.value < -0.2 ? '-0.25' : datum.value < 0.1 ? ['', '-0.00'] : datum.value < 0.3 ? '0.30' : '0.40'","labelLineHeight":3,"labelFont":"Liberation Serif","titleFont":"Liberation Serif","labelFontSize":14.2,"titleFontSize":17.7,"labelPadding":1,"titlePadding":12}}}},
  {"data":{"name":"grid"},"transform":[{"filter":"datum.p=='B' && datum.a=='y' && datum.k=='m'"}],"mark":{"type":"rule","color":"#ffffff","strokeWidth":0.6},
   "encoding":{"y":{"field":"v","type":"quantitative","scale":{"domain":[-0.35,0.402],"nice":false,"zero":false},"axis":{"title":"PC2 (20 %)","values":[-0.2,0,0.2,0.4],"labelExpr":"datum.value < -0.1 ? '-0.20' : datum.value < 0.1 ? '0.00' : datum.value < 0.3 ? '0.20' : '0.40'","labelFont":"Liberation Serif","titleFont":"Liberation Serif","labelFontSize":14.2,"titleFontSize":17.7,"labelPadding":2,"titlePadding":7}}}},
  {"data":{"name":"grid"},"transform":[{"filter":"datum.p=='B' && datum.a=='x' && datum.k=='z'"}],"mark":{"type":"rule","color":"#333333","strokeWidth":0.7,"strokeDash":[2,2]},
   "encoding":{"x":{"field":"v","type":"quantitative","scale":{"domain":[-0.5,0.5075],"nice":false,"zero":false}}}},
  {"data":{"name":"grid"},"transform":[{"filter":"datum.p=='B' && datum.a=='y' && datum.k=='z'"}],"mark":{"type":"rule","color":"#333333","strokeWidth":0.7,"strokeDash":[2,2]},
   "encoding":{"y":{"field":"v","type":"quantitative","scale":{"domain":[-0.35,0.402],"nice":false,"zero":false}}}},
  {"data":{"name":"ell"},"transform":[{"filter":"datum.p=='B'"}],"mark":{"type":"line","interpolate":"cardinal-closed","fillOpacity":0.2,"strokeWidth":1.2,"strokeOpacity":0.9},
   "encoding":{
    "x":{"field":"x","type":"quantitative","scale":{"domain":[-0.5,0.5075],"nice":false,"zero":false}},
    "y":{"field":"y","type":"quantitative","scale":{"domain":[-0.35,0.402],"nice":false,"zero":false}},
    "order":{"field":"i","type":"quantitative"},
    "fill":{"field":"g","type":"nominal","scale":{"domain":["Non-smoker_Female","Non-smoker_Male","Smoker_Female","Smoker_Male"],"range":["#F8766D","#7CAE00","#00BFC4","#C77CFF"]},
     "legend":{"title":"Smoking status and sex","orient":"none","legendX":379,"legendY":86,"titleFont":"Liberation Serif","labelFont":"Liberation Serif","titleFontSize":16,"labelFontSize":14.2,"symbolType":"M-1.31,-1.31H1.31V1.31H-1.31Z M0.17,0A0.17,0.17 0 1 1 -0.17,0A0.17,0.17 0 1 1 0.17,0Z","symbolSize":196,"symbolStrokeWidth":2,"symbolOffset":3.5,"labelOffset":14.7,"rowPadding":-9,"titlePadding":10.5,"encode":{"symbols":{"update":{"fill":{"signal":"datum.value == 'Non-smoker_Female' ? '#F8766D' : datum.value == 'Non-smoker_Male' ? '#7CAE00' : datum.value == 'Smoker_Female' ? '#00BFC4' : '#C77CFF'"},"stroke":{"signal":"datum.value == 'Non-smoker_Female' ? '#F8766D' : datum.value == 'Non-smoker_Male' ? '#7CAE00' : datum.value == 'Smoker_Female' ? '#00BFC4' : '#C77CFF'"},"fillOpacity":{"value":0.2},"strokeOpacity":{"value":1},"opacity":{"value":1}}}}}},
    "stroke":{"field":"g","type":"nominal","scale":{"domain":["Non-smoker_Female","Non-smoker_Male","Smoker_Female","Smoker_Male"],"range":["#F8766D","#7CAE00","#00BFC4","#C77CFF"]},"legend":null}
   }},
  {"data":{"name":"pts"},"transform":[{"filter":"datum.p=='B'"}],"mark":{"type":"circle","size":15,"opacity":1},
   "encoding":{
    "x":{"field":"x","type":"quantitative","scale":{"domain":[-0.5,0.5075],"nice":false,"zero":false}},
    "y":{"field":"y","type":"quantitative","scale":{"domain":[-0.35,0.402],"nice":false,"zero":false}},
    "fill":{"field":"g","type":"nominal","scale":{"domain":["Non-smoker_Female","Non-smoker_Male","Smoker_Female","Smoker_Male"],"range":["#F8766D","#7CAE00","#00BFC4","#C77CFF"]}}
   }}
 ]}]}]},
{"spacing":0,
 "resolve":{"scale":{"fill":"independent","stroke":"independent"},"legend":{"fill":"independent","stroke":"independent"}},
 "hconcat":[
 {"width":26,"height":1,"data":{"values":[]},"mark":{"type":"point","opacity":0},"view":{"fill":null,"stroke":null}},
 {"title":{"text":"(C)","orient":"bottom","anchor":"middle","fontSize":22,"fontWeight":"bold","offset":22},
 "resolve":{"scale":{"fill":"independent","stroke":"independent"},"legend":{"fill":"independent","stroke":"independent"}},
 "vconcat":[{
 "width":367,"height":299,
 "title":{"text":"PCoA of Un-weighted UniFrac Distance","fontSize":17.8,"offset":13,"frame":"group","anchor":"middle"},
 "layer":[
  {"data":{"name":"grid"},"transform":[{"filter":"datum.p=='C' && datum.a=='x' && datum.k=='m'"}],"mark":{"type":"rule","color":"#ffffff","strokeWidth":0.6},
   "encoding":{"x":{"field":"v","type":"quantitative","scale":{"domain":[-0.339,0.227],"nice":false,"zero":false},"axis":{"title":"PC1 (12 %)","values":[-0.3,-0.2,-0.1,0,0.1,0.2],"labelExpr":"datum.value < -0.25 ? '-0.30' : datum.value < -0.15 ? '-0.20' : datum.value < -0.05 ? '-0.10' : datum.value < 0.05 ? '0.00' : datum.value < 0.15 ? '0.10' : '0.20'","labelFont":"Liberation Serif","titleFont":"Liberation Serif","labelFontSize":14.3,"titleFontSize":17.8,"labelPadding":2,"titlePadding":16}}}},
  {"data":{"name":"grid"},"transform":[{"filter":"datum.p=='C' && datum.a=='y' && datum.k=='m'"}],"mark":{"type":"rule","color":"#ffffff","strokeWidth":0.6},
   "encoding":{"y":{"field":"v","type":"quantitative","scale":{"domain":[-0.2696,0.2336],"nice":false,"zero":false},"axis":{"title":"PC2 (8 %)","values":[-0.2,-0.1,0,0.1,0.2],"labelExpr":"datum.value < -0.15 ? '-0.20' : datum.value < -0.05 ? '-0.10' : datum.value < 0.05 ? '0.00\u00a0' : datum.value < 0.15 ? '0.10' : '0.20'","labelFont":"Liberation Serif","titleFont":"Liberation Serif","labelFontSize":14.3,"titleFontSize":17.8,"labelPadding":4,"titlePadding":12}}}},
  {"data":{"name":"grid"},"transform":[{"filter":"datum.p=='C' && datum.a=='x' && datum.k=='z'"}],"mark":{"type":"rule","color":"#333333","strokeWidth":0.7,"strokeDash":[2,2]},
   "encoding":{"x":{"field":"v","type":"quantitative","scale":{"domain":[-0.339,0.227],"nice":false,"zero":false}}}},
  {"data":{"name":"grid"},"transform":[{"filter":"datum.p=='C' && datum.a=='y' && datum.k=='z'"}],"mark":{"type":"rule","color":"#333333","strokeWidth":0.7,"strokeDash":[2,2]},
   "encoding":{"y":{"field":"v","type":"quantitative","scale":{"domain":[-0.2696,0.2336],"nice":false,"zero":false}}}},
  {"data":{"name":"ell"},"transform":[{"filter":"datum.p=='C'"}],"mark":{"type":"line","interpolate":"cardinal-closed","fillOpacity":0.2,"strokeWidth":1.2,"strokeOpacity":0.9},
   "encoding":{
    "x":{"field":"x","type":"quantitative","scale":{"domain":[-0.339,0.227],"nice":false,"zero":false}},
    "y":{"field":"y","type":"quantitative","scale":{"domain":[-0.2696,0.2336],"nice":false,"zero":false}},
    "order":{"field":"i","type":"quantitative"},
    "fill":{"field":"g","type":"nominal","scale":{"domain":["Non-smoker_Female","Non-smoker_Male","Smoker_Female","Smoker_Male"],"range":["#F8766D","#7CAE00","#00BFC4","#C77CFF"]},
     "legend":{"title":"Smoking status and sex","orient":"none","legendX":375,"legendY":84,"titleFont":"Liberation Serif","labelFont":"Liberation Serif","titleFontSize":16,"labelFontSize":14.3,"symbolType":"M-1.23,-1.23H1.23V1.23H-1.23Z M0.16,0A0.16,0.16 0 1 1 -0.16,0A0.16,0.16 0 1 1 0.16,0Z","symbolSize":225,"symbolStrokeWidth":2,"symbolOffset":3,"labelOffset":14.3,"rowPadding":-8,"titlePadding":10.5,"encode":{"symbols":{"update":{"fill":{"signal":"datum.value == 'Non-smoker_Female' ? '#F8766D' : datum.value == 'Non-smoker_Male' ? '#7CAE00' : datum.value == 'Smoker_Female' ? '#00BFC4' : '#C77CFF'"},"stroke":{"signal":"datum.value == 'Non-smoker_Female' ? '#F8766D' : datum.value == 'Non-smoker_Male' ? '#7CAE00' : datum.value == 'Smoker_Female' ? '#00BFC4' : '#C77CFF'"},"fillOpacity":{"value":0.2},"strokeOpacity":{"value":1},"opacity":{"value":1}}}}}},
    "stroke":{"field":"g","type":"nominal","scale":{"domain":["Non-smoker_Female","Non-smoker_Male","Smoker_Female","Smoker_Male"],"range":["#F8766D","#7CAE00","#00BFC4","#C77CFF"]},"legend":null}
   }},
  {"data":{"name":"pts"},"transform":[{"filter":"datum.p=='C'"}],"mark":{"type":"circle","size":10,"opacity":1},
   "encoding":{
    "x":{"field":"x","type":"quantitative","scale":{"domain":[-0.339,0.227],"nice":false,"zero":false}},
    "y":{"field":"y","type":"quantitative","scale":{"domain":[-0.2696,0.2336],"nice":false,"zero":false}},
    "fill":{"field":"g","type":"nominal","scale":{"domain":["Non-smoker_Female","Non-smoker_Male","Smoker_Female","Smoker_Male"],"range":["#F8766D","#7CAE00","#00BFC4","#C77CFF"]}}
   }}
 ]}]}]}
]
}
